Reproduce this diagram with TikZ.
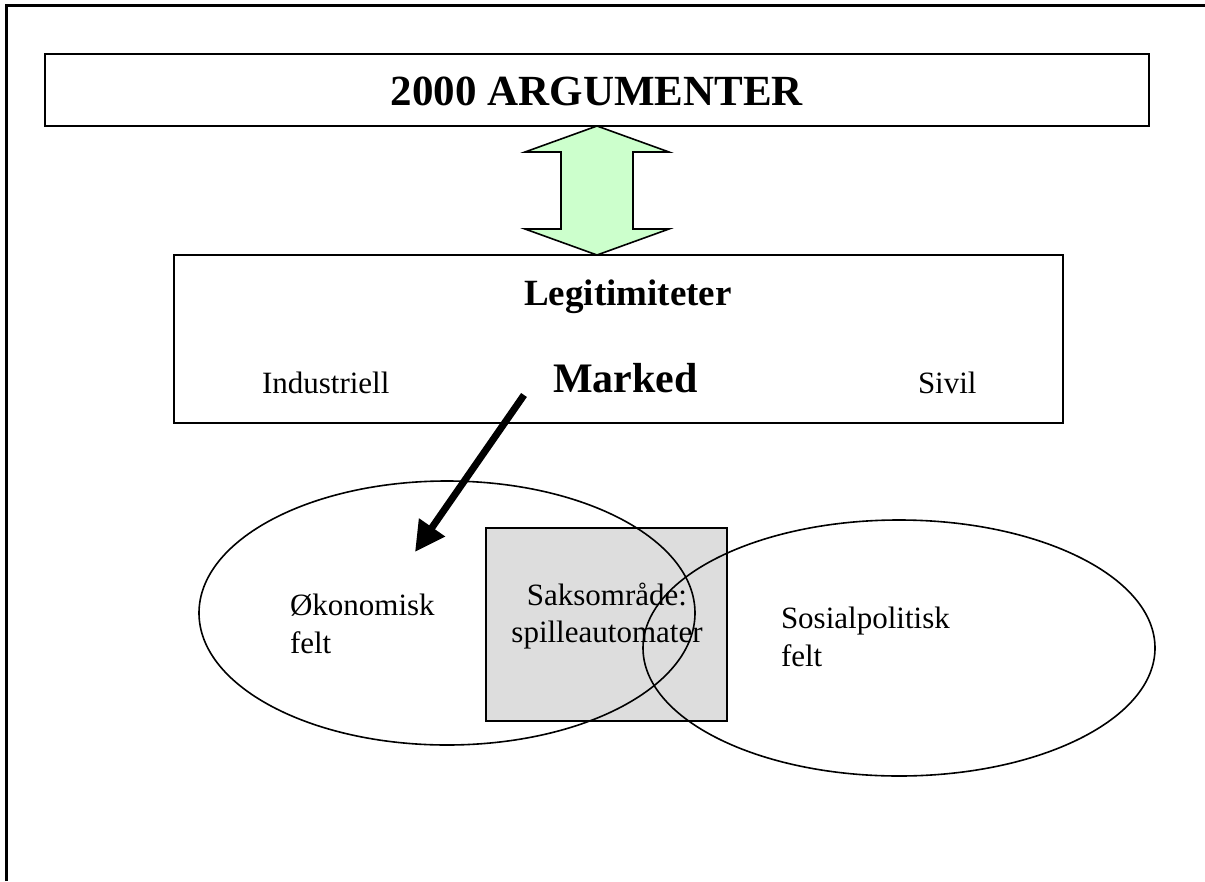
\documentclass[tikz,border=0pt]{standalone}
\usepackage{fontspec}
\setmainfont{Liberation Serif}
\usetikzlibrary{shapes.geometric,arrows.meta}
\definecolor{lightgreen}{RGB}{204,255,204}
\definecolor{boxgray}{RGB}{221,221,221}
\tikzset{
  frameline/.style={line width=3pt, line cap=butt},
  boxnode/.style={draw, rectangle, inner sep=0pt, outer sep=0pt},
  fieldnode/.style={draw, ellipse, inner sep=0pt, outer sep=0pt, line width=1.6pt},
  txt/.style={inner sep=0pt, outer sep=0pt, anchor=base west, align=left, font=\fontsize{31}{38}\selectfont},
  txtc/.style={inner sep=0pt, outer sep=0pt, anchor=base, align=center, font=\fontsize{31}{37}\selectfont},
  dblarrow/.style={draw, fill=lightgreen, line width=1.6pt, line join=miter},
  bigarrow/.style={line width=7pt, -{Triangle[length=30pt,width=30pt]}}
}
\begin{document}
\begin{tikzpicture}[x=1pt,y=-1pt]
\useasboundingbox (0,0) rectangle (1205,881);
% frame
\coordinate (fb) at (6,881);
\coordinate (ftl) at (6,5);
\coordinate (ftr) at (1205,5);
\draw[frameline] (fb) -- (ftl) -- (ftr);
% title box
\node[boxnode, line width=2pt, minimum width=1104pt, minimum height=72pt] (title) at (597,90) {};
\node[inner sep=0pt, anchor=base, font=\fontsize{43}{50}\selectfont\bfseries] (titletxt) at (597,105) {2000 ARGUMENTER};
% legitimacy box
\node[boxnode, line width=1.6pt, minimum width=889pt, minimum height=168pt] (legit) at (618.5,339) {};
\node[inner sep=0pt, anchor=base, font=\fontsize{37}{42}\selectfont\bfseries] (legtxt) at (628,305) {Legitimiteter};
\node[inner sep=0pt, anchor=base, font=\fontsize{42}{48}\selectfont\bfseries] (marked) at (625.5,392) {Marked};
\node[txt] (ind) at (262,393) {Industriell};
\node[txt] (sivil) at (918,393) {Sivil};
% double arrow
\draw[dblarrow] (title.south) -- ++(72,26) -- ++(-36,0) -- ++(0,77) -- ++(36,0)
  -- ++(-72,26) -- ++(-72,-26) -- ++(36,0) -- ++(0,-77) -- ++(-36,0) -- cycle;
% gray subject area
\node[boxnode, fill=boxgray, line width=1.6pt, minimum width=241pt, minimum height=193pt] (sak) at (606.5,624.5) {};
\node[txtc] (saktxt) at (607,642) {Saksområde:\\spilleautomater};
% fields
\node[fieldnode, minimum width=496pt, minimum height=264pt] (oko) at (447,613) {};
\node[fieldnode, minimum width=512pt, minimum height=256pt] (sos) at (899,648) {};
\node[txt] (okotxt) at (290,653) {Økonomisk\\felt};
\node[txt] (sostxt) at (781,666) {Sosialpolitisk\\felt};
% market arrow
\coordinate (arrS) at (524,395);
\coordinate (arrE) at (415,552);
\draw[bigarrow] (arrS) -- (arrE);
\end{tikzpicture}
\end{document}
